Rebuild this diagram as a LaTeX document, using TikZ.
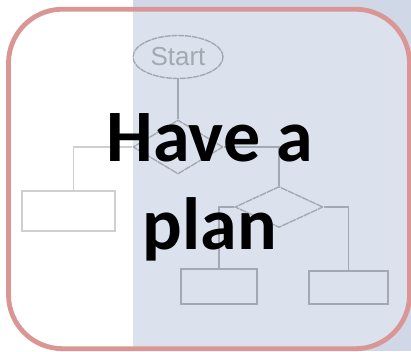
\documentclass[tikz,border=0pt]{standalone}
\usepackage{fontspec}
\setmainfont{Carlito}
\newfontfamily\flowfont{Liberation Sans}
\usetikzlibrary{positioning, shapes.geometric, calc}
\definecolor{planblue}{HTML}{D0D8E8}
\definecolor{planrose}{HTML}{D99694}
\definecolor{flowgray}{HTML}{A4A8B0}

\begin{document}
\begin{tikzpicture}[x=1pt, y=-1pt,
    flowline/.style={flowgray, line width=1.4pt},
    decision/.style={diamond, draw=flowgray, line width=1.4pt, dash pattern=on 7pt off 0.8pt, inner sep=0pt},
    stepbox/.style={rectangle, draw=flowgray, line width=1.4pt, inner sep=0pt}]
  \useasboundingbox (0,0) rectangle (411,351);
  \fill[white] (0,0) rectangle (133,351);
  \fill[planblue] (133,0) rectangle (411,351);
  \fill[white, fill opacity=0.25, rounded corners=54pt] (8.5,9.2) rectangle (409.5,348.7);

  \node[ellipse, draw=flowgray, line width=1.4pt, dash pattern=on 6pt off 0.8pt,
    minimum width=90pt, minimum height=43pt, inner sep=0pt,
    font=\flowfont\fontsize{26}{26}\selectfont, text=flowgray] (start) at (178,57) {Start};
  \node[decision, minimum width=90pt, minimum height=54pt] (dec1) at (178,147) {};
  \node[decision, minimum width=88pt, minimum height=41pt] (dec2) at (279,207) {};
  \node[stepbox, minimum width=93pt, minimum height=40pt] (box1) at (68.5,211) {};
  \node[stepbox, minimum width=76pt, minimum height=35pt] (box2) at (219,286.5) {};
  \node[stepbox, minimum width=79pt, minimum height=33pt] (box3) at (348.5,287.5) {};

  \draw[flowline] (start) -- (dec1);
  \draw[flowline] (dec1.west) -| ([xshift=5pt]box1.north);
  \draw[flowline] (dec1.east) -| (dec2.north);
  \draw[flowline] (dec2.west) -| (box2.north);
  \draw[flowline] (dec2.east) -| (box3.north);

  \fill[white, fill opacity=0.45] (0,0) rectangle (133,351);
  \draw[planrose, line width=4.8pt, rounded corners=54pt] (8.5,9.2) rectangle (409.5,348.7);

  \node[font=\bfseries\fontsize{74}{88}\selectfont, align=center, inner sep=0pt] (title) at (210,187) {Have a\\plan};
\end{tikzpicture}
\end{document}
